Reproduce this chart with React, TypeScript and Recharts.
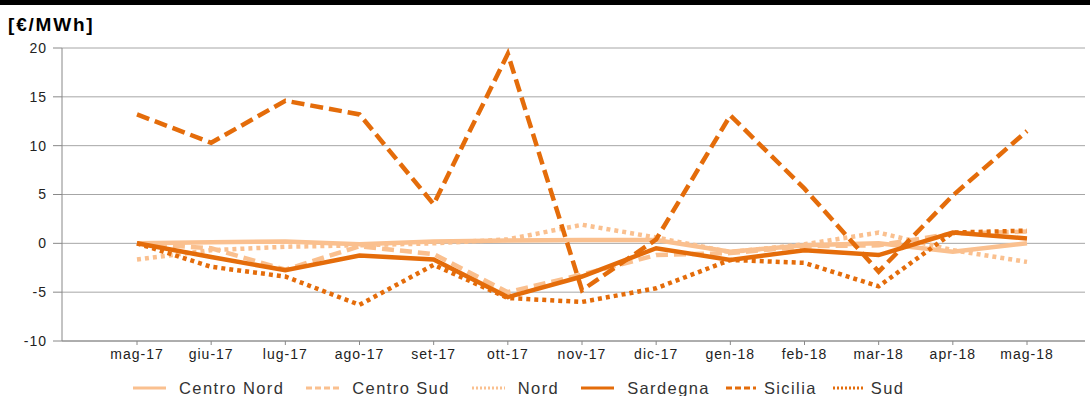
import { LineChart, Line, XAxis, YAxis, CartesianGrid } from "recharts";

// ── Data ──────────────────────────────────────────────────────────────────────

const months = [
  "mag-17", "giu-17", "lug-17", "ago-17", "set-17", "ott-17", "nov-17",
  "dic-17", "gen-18", "feb-18", "mar-18", "apr-18", "mag-18",
];

const centroNord = [0, 0.1, 0.2, -0.1, 0.2, 0.3, 0.35, 0.35, -0.85, -0.2, 0.0, -0.85, 0.0];
const centroSud = [0, -0.5, -2.7, -0.3, -1.1, -5.0, -3.2, -1.2, -1.0, -0.3, -0.2, 1.0, 1.2];
const nord = [-1.65, -0.7, -0.35, -0.2, 0.0, 0.4, 1.9, 0.6, -0.9, -0.1, 1.1, -0.7, -1.9];
const sardegna = [0, -1.4, -2.75, -1.25, -1.65, -5.5, -3.4, -0.5, -1.7, -0.7, -1.2, 1.1, 0.5];
const sicilia = [13.2, 10.3, 14.6, 13.2, 4.0, 19.4, -4.8, 0.4, 13.1, 5.6, -2.9, 4.9, 11.5];
const sud = [0, -2.4, -3.4, -6.3, -2.2, -5.6, -6.0, -4.6, -1.7, -2.0, -4.4, 1.1, 1.3];

const yTicks = [-10, -5, 0, 5, 10, 15, 20];

// ── Styles ────────────────────────────────────────────────────────────────────

const DARK = "#E46C0A";
const LIGHT = "#FAC08F";
const FONT = '"Liberation Sans", Arial, sans-serif';

const series = [
  { key: "centroNord", name: "Centro Nord", color: LIGHT, dash: undefined },
  { key: "centroSud", name: "Centro Sud", color: LIGHT, dash: "12 6" },
  { key: "nord", name: "Nord", color: LIGHT, dash: "4 4" },
  { key: "sardegna", name: "Sardegna", color: DARK, dash: undefined },
  { key: "sicilia", name: "Sicilia", color: DARK, dash: "13 6" },
  { key: "sud", name: "Sud", color: DARK, dash: "4 4" },
];

const data = months.map((month, i) => ({
  month,
  centroNord: centroNord[i],
  centroSud: centroSud[i],
  nord: nord[i],
  sardegna: sardegna[i],
  sicilia: sicilia[i],
  sud: sud[i],
}));

// ── Legend ────────────────────────────────────────────────────────────────────

function ZoneLegend() {
  return (
    <div
      style={{
        position: "absolute",
        left: 133,
        top: 378,
        display: "flex",
        alignItems: "center",
        fontFamily: FONT,
        fontSize: 16.5,
        letterSpacing: 1.4,
        color: "#333",
        lineHeight: "20px",
      }}
    >
      {series.map((s, i) => (
        <div
          key={s.key}
          style={{
            display: "flex",
            alignItems: "center",
            gap: i < 4 ? 13 : 8,
            marginLeft: i === 0 ? 0 : i < 4 ? 22 : 16,
          }}
        >
          <svg width={i < 4 ? 33 : 30} height={6}>
            <line
              x1={0}
              y1={3}
              x2={33}
              y2={3}
              stroke={s.color}
              strokeWidth={3}
              strokeDasharray={s.dash === "4 4" ? "2 2" : s.dash ? "6 3" : undefined}
            />
          </svg>
          <span>{s.name}</span>
        </div>
      ))}
    </div>
  );
}

// ── Chart ─────────────────────────────────────────────────────────────────────

export default function App() {
  return (
    <div
      style={{
        position: "relative",
        width: 1090,
        height: 396,
        background: "#fff",
        overflow: "hidden",
      }}
    >
      <style>{`body { margin: 0; }`}</style>
      <div style={{ position: "absolute", left: 0, top: 0, width: 1090, height: 5, background: "#000" }} />
      <div
        style={{
          position: "absolute",
          left: 8,
          top: 14,
          fontFamily: FONT,
          fontWeight: 700,
          fontSize: 19,
          letterSpacing: 1.8,
          color: "#000",
        }}
      >
        [€/MWh]
      </div>

      <LineChart
        width={1090}
        height={396}
        data={data}
        margin={{ top: 48, right: 5, bottom: 35, left: 0 }}
        style={{ position: "absolute", left: 0, top: 0 }}
      >
        <CartesianGrid vertical={false} stroke="#A6A6A6" strokeWidth={1} />
        <XAxis
          dataKey="month"
          height={20}
          padding={{ left: 75, right: 58 }}
          stroke="#888"
          tickSize={4}
          tickMargin={4}
          tick={{ fontSize: 14, fill: "#222", fontFamily: FONT, letterSpacing: 1 }}
        />
        <YAxis
          width={62}
          domain={[-10, 20]}
          ticks={yTicks}
          interval={0}
          stroke="#888"
          tickSize={9}
          tickMargin={6}
          tick={{ fontSize: 14, fill: "#222", fontFamily: FONT, letterSpacing: 1 }}
        />
        {series.map((s) => (
          <Line
            key={s.key}
            dataKey={s.key}
            name={s.name}
            type="linear"
            stroke={s.color}
            strokeWidth={4.5}
            strokeDasharray={s.dash}
            dot={false}
            activeDot={false}
            isAnimationActive={false}
          />
        ))}
      </LineChart>

      <ZoneLegend />
    </div>
  );
}
